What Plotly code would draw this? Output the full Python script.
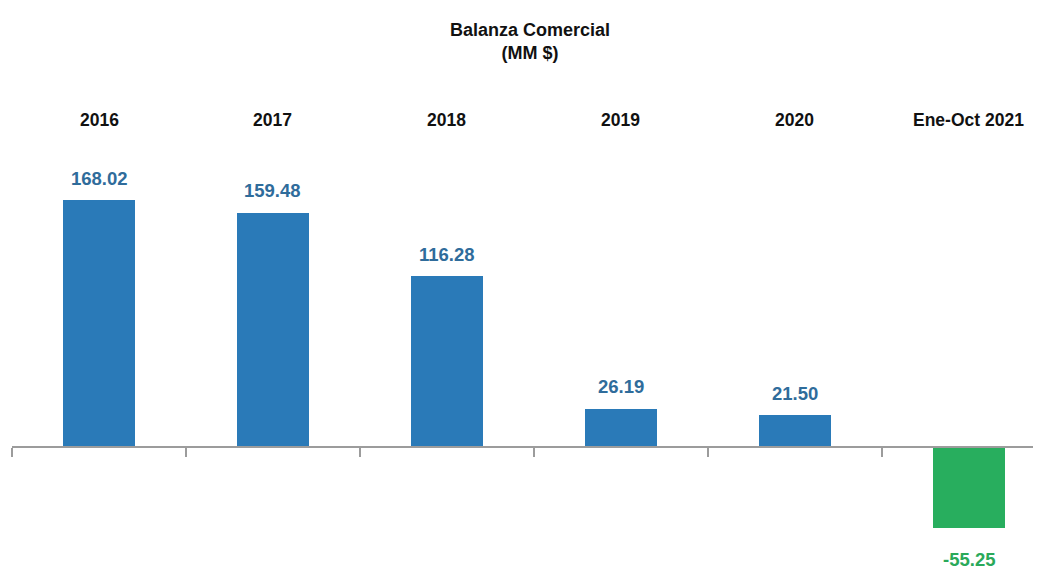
import plotly.graph_objects as go

categories = ["2016", "2017", "2018", "2019", "2020", "Ene-Oct 2021"]
values = [168.02, 159.48, 116.28, 26.19, 21.50, -55.25]
value_labels = ["168.02", "159.48", "116.28", "26.19", "21.50", "-55.25"]

BLUE = "#2a7ab8"
GREEN = "#28ae5e"
BLUE_TXT = "#2f6c9b"
GREEN_TXT = "#2aa95a"
FONT = "Liberation Sans, Arial, sans-serif"

# page body has an 8px margin, so the figure is 8px smaller
W, H = 1033, 561

xs = list(range(len(categories)))
colors = [BLUE if v >= 0 else GREEN for v in values]

fig = go.Figure()
fig.add_trace(go.Bar(
    x=xs, y=values, width=0.41,
    marker=dict(color=colors, line=dict(width=0)),
    hoverinfo="skip", showlegend=False,
))

ymin, ymax = -83.0, 214.3
zero_pos = (0 - ymin) / (ymax - ymin)
boundaries = [i - 0.5 for i in range(len(categories) + 1)]

annotations = []
for i, c in enumerate(categories):
    annotations.append(dict(
        x=i, y=1, xref="x", yref="paper", text="<b>" + c + "</b>",
        showarrow=False, yanchor="middle", yshift=12,
        font=dict(family=FONT, size=17.5, color="#111111"),
    ))
for i, (v, t) in enumerate(zip(values, value_labels)):
    annotations.append(dict(
        x=i, y=v, xref="x", yref="y", text="<b>" + t + "</b>",
        showarrow=False, yanchor="middle", yshift=22 if v >= 0 else -31,
        font=dict(family=FONT, size=18.5, color=BLUE_TXT if v >= 0 else GREEN_TXT),
    ))

fig.update_layout(
    width=W, height=H,
    margin=dict(l=4, r=0, t=124, b=0),
    paper_bgcolor="white", plot_bgcolor="white",
    title=dict(
        text="<b>Balanza Comercial<br>(MM $)</b>",
        x=522 / W, xanchor="center", xref="container",
        y=1 - 28 / H, yanchor="top", yref="container",
        font=dict(family=FONT, size=18, color="#111111"),
    ),
    xaxis=dict(
        range=[-0.5, 5.414], anchor="free", position=zero_pos,
        showline=True, linecolor="#9c9c9c", linewidth=1.5,
        tickmode="array", tickvals=boundaries, ticks="outside",
        ticklen=9, tickwidth=1.5, tickcolor="#9c9c9c",
        showticklabels=False, showgrid=False, zeroline=False,
    ),
    yaxis=dict(
        range=[ymin, ymax], visible=False, showgrid=False, zeroline=False,
    ),
    annotations=annotations,
    bargap=0,
)

fig.write_html("out.html")
